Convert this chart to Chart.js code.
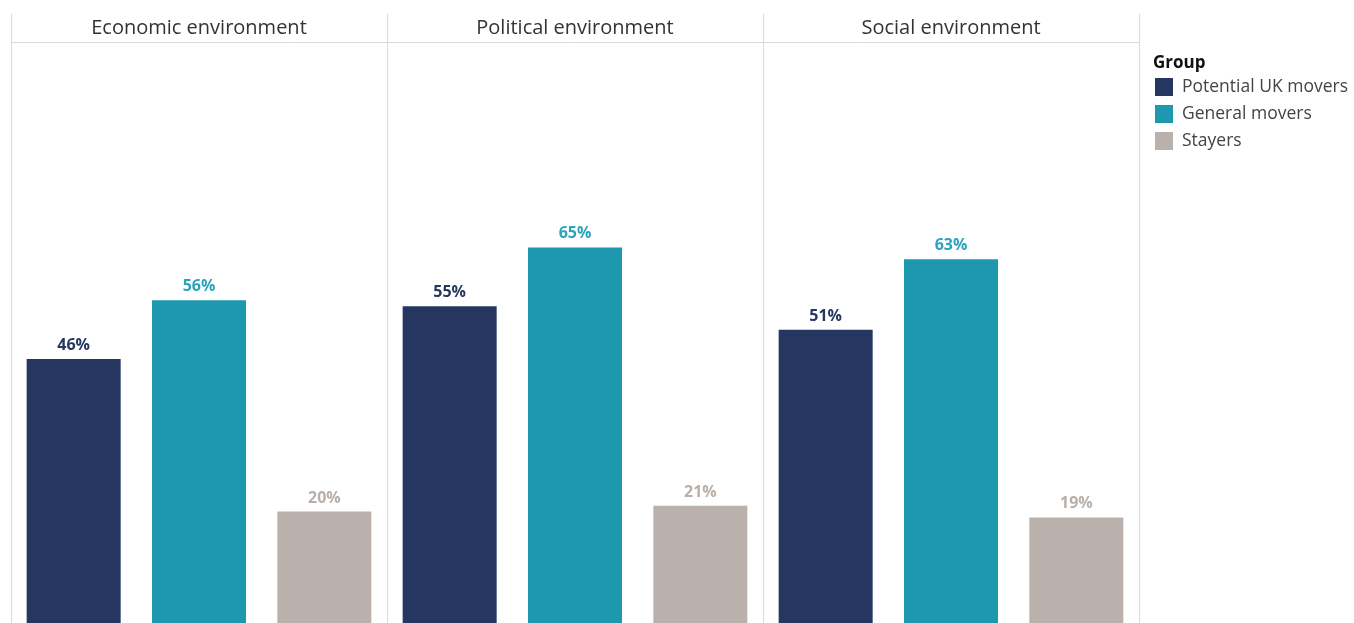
<!DOCTYPE html>
<html>
<head>
<meta charset="utf-8">
<script src="https://cdn.jsdelivr.net/npm/chart.js@4.4.0/dist/chart.umd.min.js"></script>
<style>
  html, body { margin: 0; padding: 0; background: #fff; overflow: hidden; }
  #wrap { position: relative; width: 1354px; height: 630px; }
</style>
</head>
<body>
<div id="wrap"><canvas id="chart"></canvas></div>
<script>
// panels across the top, one bar per group inside each
const categories = ['Economic environment', 'Political environment', 'Social environment'];
const groups = ['Potential UK movers', 'General movers', 'Stayers'];
const potentialUK = [46, 55, 51];
const generalMovers = [56, 65, 63];
const stayers = [20, 21, 19];
const colors = ['#253760', '#1d98af', '#bab1ac'];
const labelColors = ['#253760', '#2aa3bd', '#b9afa9'];

const FONT = "'Open Sans', sans-serif";
const GRID = '#d9d9d9';

// panel titles + the short line stubs above the header rule
const headerPlugin = {
  id: 'header',
  afterDraw(chart) {
    const ctx = chart.ctx;
    const x = chart.scales.x;
    const top = chart.chartArea.top;
    ctx.save();
    ctx.strokeStyle = GRID;
    ctx.lineWidth = 1;
    const half = (x.getPixelForValue(1) - x.getPixelForValue(0)) / 2;
    for (let i = 0; i <= categories.length; i++) {
      const px = Math.round(x.getPixelForValue(0) - half + i * half * 2) + 0.5;
      ctx.beginPath();
      ctx.moveTo(px, 14);
      ctx.lineTo(px, top);
      ctx.stroke();
    }
    ctx.fillStyle = '#333';
    ctx.font = '20px ' + FONT;
    ctx.textAlign = 'center';
    ctx.textBaseline = 'middle';
    categories.forEach((c, i) => ctx.fillText(c, x.getPixelForValue(i), 28));
    ctx.restore();
  }
};

// value labels on top of every bar
const valuePlugin = {
  id: 'values',
  afterDatasetsDraw(chart) {
    const ctx = chart.ctx;
    ctx.save();
    ctx.font = 'bold 16px ' + FONT;
    ctx.textAlign = 'center';
    ctx.textBaseline = 'alphabetic';
    chart.data.datasets.forEach((ds, di) => {
      const meta = chart.getDatasetMeta(di);
      ctx.fillStyle = labelColors[di];
      meta.data.forEach((bar, i) => {
        ctx.fillText(ds.data[i] + '%', bar.x, bar.y - 9);
      });
    });
    ctx.restore();
  }
};

// legend block on the right
const legendPlugin = {
  id: 'groupLegend',
  afterDraw(chart) {
    const ctx = chart.ctx;
    ctx.save();
    ctx.textBaseline = 'middle';
    ctx.textAlign = 'left';
    ctx.fillStyle = '#111';
    ctx.font = 'bold 17px ' + FONT;
    ctx.fillText('Group', 1153, 63);
    ctx.font = '17.5px ' + FONT;
    groups.forEach((g, i) => {
      const cy = 87 + i * 27;
      ctx.fillStyle = colors[i];
      ctx.fillRect(1155, cy - 9, 18, 18);
      ctx.fillStyle = '#444';
      ctx.fillText(g, 1182, cy);
    });
    ctx.restore();
  }
};

new Chart(document.getElementById('chart'), {
  type: 'bar',
  data: {
    labels: categories,
    datasets: [
      { label: groups[0], data: potentialUK, backgroundColor: colors[0] },
      { label: groups[1], data: generalMovers, backgroundColor: colors[1] },
      { label: groups[2], data: stayers, backgroundColor: colors[2] }
    ]
  },
  options: {
    responsive: true,
    maintainAspectRatio: false,
    animation: false,
    layout: { padding: { top: 42, left: 11, right: 215, bottom: 1 } },
    datasets: { bar: { categoryPercentage: 1, barPercentage: 0.75 } },
    scales: {
      x: {
        position: 'top',
        grid: { offset: true, color: GRID, drawTicks: false },
        border: { display: true, color: GRID },
        ticks: { display: false }
      },
      y: {
        display: false,
        min: 0,
        max: 100
      }
    },
    plugins: { legend: { display: false }, tooltip: { enabled: false } }
  },
  plugins: [headerPlugin, valuePlugin, legendPlugin]
});
</script>
</body>
</html>
